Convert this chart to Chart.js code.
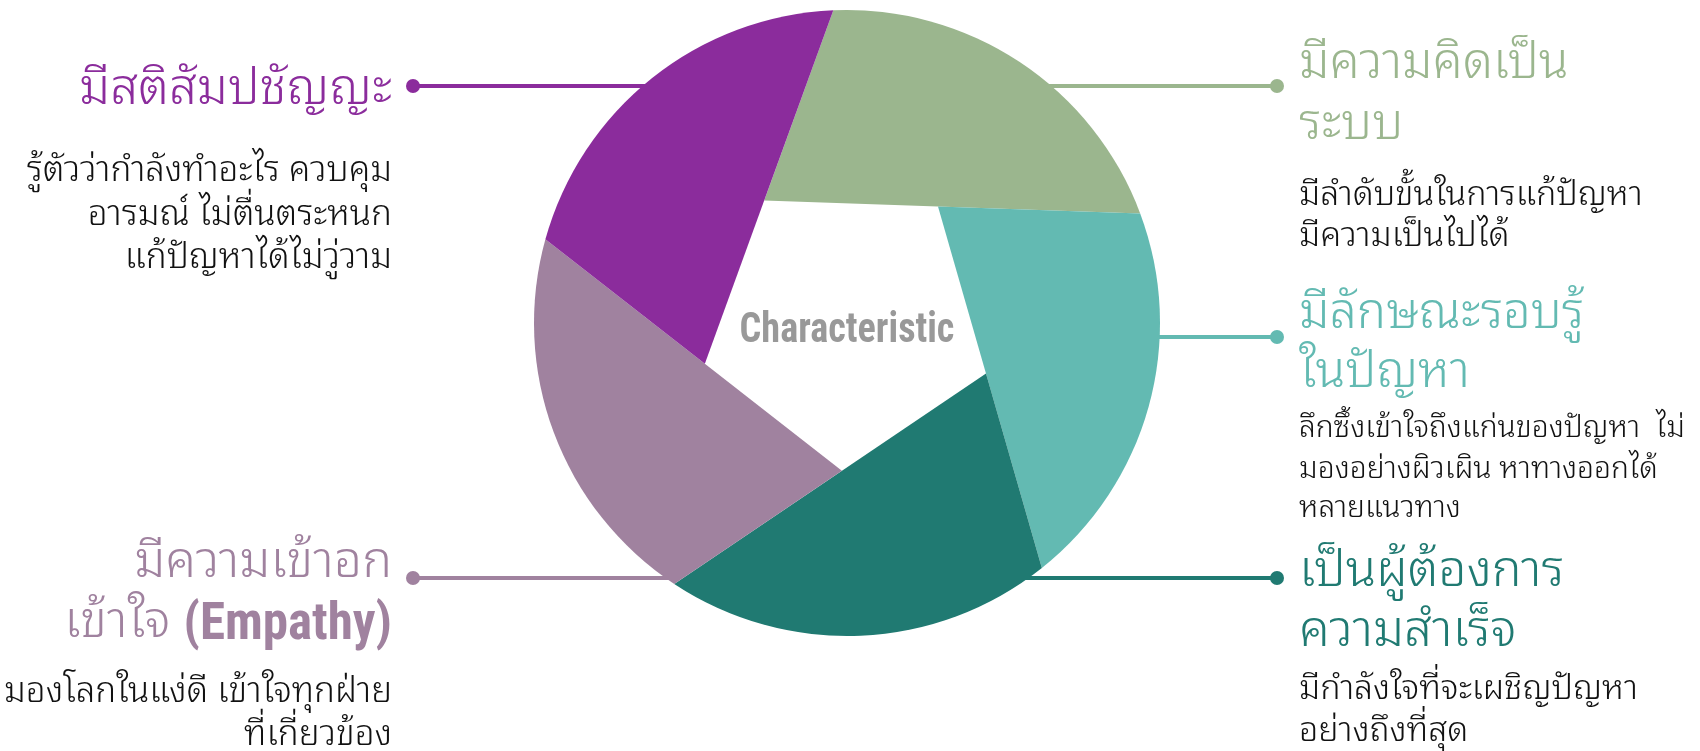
<!DOCTYPE html>
<html>
<head>
<meta charset="utf-8">
<script src="https://cdn.jsdelivr.net/npm/chart.js@4.4.0/dist/chart.umd.min.js"></script>
<style>
html, body { margin: 0; padding: 0; background: #fff; overflow: hidden; }
#wrap { width: 1700px; height: 751px; position: relative; }
</style>
</head>
<body>
<div id="wrap"><canvas id="c"></canvas></div>
<script>
// slices go clockwise from the top
const categories = ['มีความคิดเป็นระบบ', 'มีลักษณะรอบรู้ในปัญหา', 'เป็นผู้ต้องการความสำเร็จ', 'มีความเข้าอกเข้าใจ (Empathy)', 'มีสติสัมปชัญญะ'];
const values = [1, 1, 1, 1, 1];
const colors = ['#9bb68e', '#63bab2', '#207a72', '#a0829f', '#8b2c9c'];
const titleLines = [
	['มีความคิดเป็น', 'ระบบ'],
	['มีลักษณะรอบรู้', 'ในปัญหา'],
	['เป็นผู้ต้องการ', 'ความสำเร็จ'],
	['มีความเข้าอก', 'เข้าใจ (Empathy)'],
	['มีสติสัมปชัญญะ']
];
const descLines = [
	['มีลำดับขั้นในการแก้ปัญหา', 'มีความเป็นไปได้'],
	['ลึกซึ้งเข้าใจถึงแก่นของปัญหา  ไม่', 'มองอย่างผิวเผิน หาทางออกได้', 'หลายแนวทาง'],
	['มีกำลังใจที่จะเผชิญปัญหา', 'อย่างถึงที่สุด'],
	['มองโลกในแง่ดี เข้าใจทุกฝ่าย', 'ที่เกี่ยวข้อง'],
	['รู้ตัวว่ากำลังทำอะไร ควบคุม', 'อารมณ์ ไม่ตื่นตระหนก', 'แก้ปัญหาได้ไม่วู่วาม']
];
const centerLabel = 'Characteristic';

// callout placement (page pixels)
const callouts = [
	{side: 'right', lineY: 86,  titleY: [64, 125],  titleSize: 49, descY: [195, 236],      descSize: 34},
	{side: 'right', lineY: 337, titleY: [314, 373], titleSize: 49, descY: [429, 470, 509], descSize: 30},
	{side: 'right', lineY: 578, titleY: [572, 632], titleSize: 50, descY: [689, 731],      descSize: 34},
	{side: 'left',  lineY: 578, titleY: [563, 623], titleSize: 50, descY: [692, 735],      descSize: 35},
	{side: 'left',  lineY: 86,  titleY: [90],       titleSize: 50, descY: [171, 215, 258], descSize: 35}
];
const dotX = {left: 413, right: 1277};
const textX = {left: 392, right: 1299};
const thaiFont = '"Noto Sans Thai Looped", "Noto Sans Thai", "Noto Sans", sans-serif';
const thaiWeight = '350 ';
const condFont = '"Liberation Sans Narrow", "Roboto Condensed", "DejaVu Sans Condensed", sans-serif';
const innerRatio = 0.4725;

function arcOf(chart) {
	return chart.getDatasetMeta(0).data;
}

// draw text squeezed horizontally
function squeezed(ctx, text, x, y, sx, align) {
	ctx.save();
	ctx.translate(x, y);
	ctx.scale(sx, 1);
	ctx.textAlign = align;
	ctx.fillText(text, 0, 0);
	ctx.restore();
	return ctx.measureText(text).width * sx;
}

const shutter = {
	id: 'shutter',
	beforeDatasetsDraw(chart) {
		// connector lines sit behind the blades
		const ctx = chart.ctx;
		const arcs = arcOf(chart);
		const cx = arcs[0].x, cy = arcs[0].y, R = arcs[0].outerRadius;
		ctx.save();
		callouts.forEach(function(c, i) {
			const dy = c.lineY - cy;
			const half = Math.sqrt(Math.max(R * R - dy * dy, 0)) - 12;
			const sgn = c.side == 'right' ? 1 : -1;
			ctx.strokeStyle = colors[i];
			ctx.fillStyle = colors[i];
			ctx.lineWidth = 4;
			ctx.beginPath();
			ctx.moveTo(cx + sgn * half, c.lineY);
			ctx.lineTo(dotX[c.side], c.lineY);
			ctx.stroke();
			ctx.beginPath();
			ctx.arc(dotX[c.side], c.lineY, 7, 0, Math.PI * 2);
			ctx.fill();
		});
		ctx.restore();
	},
	beforeDatasetDraw(chart) {
		// each slice becomes a shutter blade around a pentagon hole
		const ctx = chart.ctx;
		const arcs = arcOf(chart);
		const n = arcs.length;
		ctx.save();
		arcs.forEach(function(el, i) {
			const p = el.getProps(['x', 'y', 'startAngle', 'endAngle', 'outerRadius']);
			const R = p.outerRadius, rho = R * innerRatio;
			const half = Math.PI / n;
			const delta = Math.acos(rho * Math.cos(half) / R) - half;
			const va = p.startAngle - delta;
			ctx.fillStyle = colors[i];
			ctx.beginPath();
			ctx.moveTo(p.x + rho * Math.cos(va), p.y + rho * Math.sin(va));
			ctx.lineTo(p.x + R * Math.cos(p.startAngle), p.y + R * Math.sin(p.startAngle));
			ctx.arc(p.x, p.y, R, p.startAngle, p.endAngle);
			ctx.closePath();
			ctx.fill();
		});
		ctx.restore();
		return false;
	},
	afterDraw(chart) {
		const ctx = chart.ctx;
		const arcs = arcOf(chart);
		ctx.save();
		ctx.textBaseline = 'middle';
		ctx.fillStyle = '#999999';
		ctx.font = 'bold 42px ' + condFont;
		squeezed(ctx, centerLabel, arcs[0].x, arcs[0].y + 8, 0.91, 'center');

		callouts.forEach(function(c, i) {
			const x = textX[c.side];
			const align = c.side == 'right' ? 'left' : 'right';
			ctx.fillStyle = colors[i];
			titleLines[i].forEach(function(line, k) {
				const m = line.match(/^(.*?)(\(.*\))$/);
				if (m) {
					// latin part in parentheses is set bold condensed
					ctx.font = 'bold 51px ' + condFont;
					ctx.textAlign = 'right';
					const w = ctx.measureText(m[2]).width;
					ctx.fillText(m[2], x, c.titleY[k] + 3);
					ctx.font = thaiWeight + c.titleSize + 'px ' + thaiFont;
					ctx.fillText(m[1], x - w, c.titleY[k]);
				} else {
					ctx.font = thaiWeight + c.titleSize + 'px ' + thaiFont;
					ctx.textAlign = align;
					ctx.fillText(line, x, c.titleY[k]);
				}
			});
			ctx.fillStyle = '#111';
			ctx.font = thaiWeight + c.descSize + 'px ' + thaiFont;
			ctx.textAlign = align;
			descLines[i].forEach(function(line, k) {
				ctx.fillText(line, x, c.descY[k]);
			});
		});
		ctx.restore();
	}
};

const config = {
	type: 'pie',
	data: {
		labels: categories,
		datasets: [{
			data: values,
			backgroundColor: colors,
			borderWidth: 0
		}]
	},
	options: {
		responsive: true,
		maintainAspectRatio: false,
		animation: false,
		rotation: -2.5,
		layout: {padding: {top: 10, bottom: 115, left: 534, right: 540}},
		plugins: {
			legend: {display: false},
			tooltip: {enabled: false}
		}
	},
	plugins: [shutter]
};

new Chart(document.getElementById('c'), config);
</script>
</body>
</html>
